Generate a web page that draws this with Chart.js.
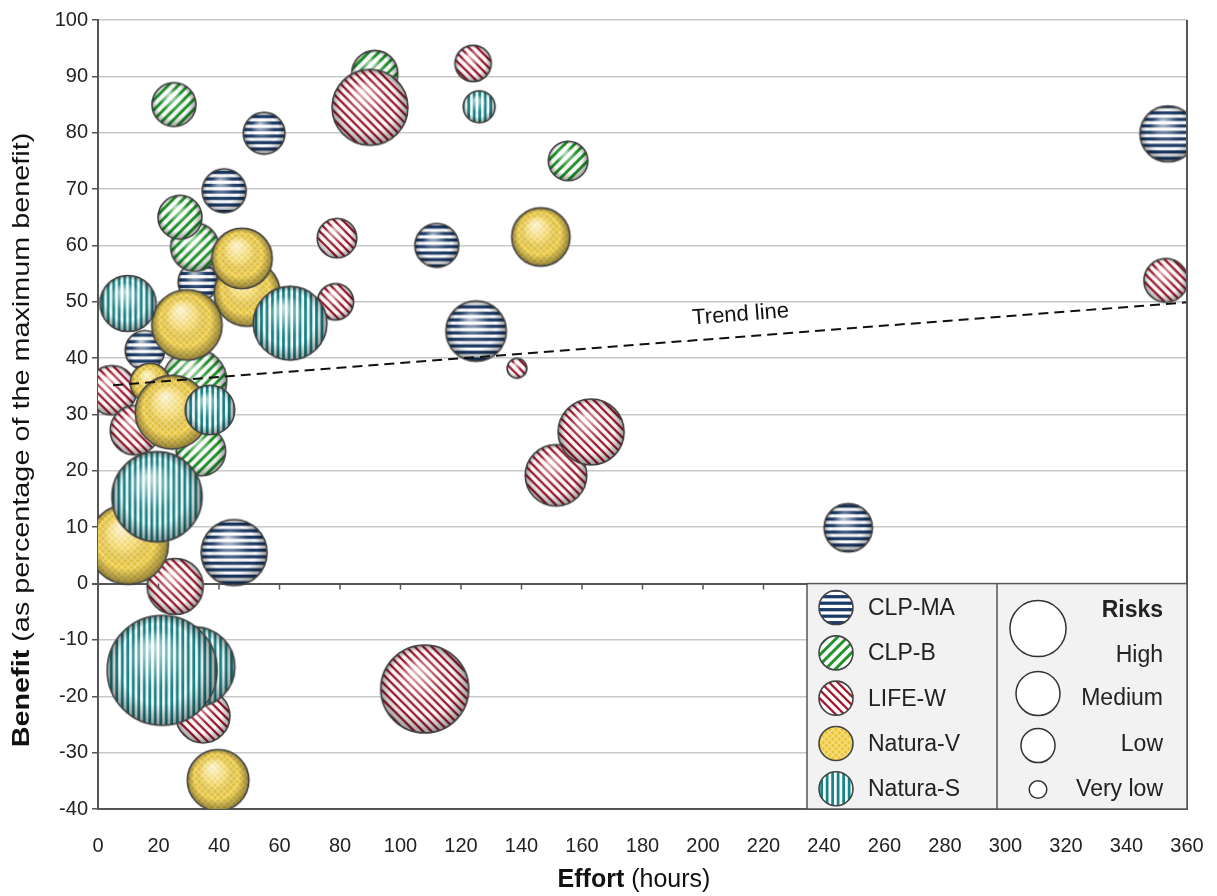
<!DOCTYPE html>
<html>
<head>
<meta charset="utf-8">
<script src="https://cdn.jsdelivr.net/npm/chart.js@4.4.1/dist/chart.umd.min.js"></script>
<style>
  html, body { margin: 0; padding: 0; background: #fff; }
</style>
</head>
<body>
<canvas id="chart" width="1217" height="896"></canvas>
<script>
// effort (hours), benefit (% of max), risk score (bubble size)
var clpMaEffort  = [15.5, 33, 54.9, 41.7, 112, 125, 45, 248, 353.7];
var clpMaBenefit = [41.4, 53.5, 79.9, 69.7, 60, 44.8, 5.5, 9.9, 79.8];
var clpMaRisk    = [3.6, 3.6, 3.8, 4.0, 4.0, 5.5, 6.0, 4.4, 5.1];

var clpBEffort  = [25.1, 91.5, 155.4, 32, 27.1, 32, 34];
var clpBBenefit = [85, 90.5, 75, 59.7, 65, 36, 23.5];
var clpBRisk    = [4.0, 4.2, 3.6, 4.4, 4.0, 5.8, 4.5];

var lifeWEffort  = [4.6, 12.2, 25.5, 34.7, 78.5, 79, 89.9, 124, 138.5, 151.4, 163, 108, 353];
var lifeWBenefit = [34.3, 27.2, -0.5, -23.5, 50, 61.3, 84.5, 92.3, 38.2, 19.2, 26.9, -18.7, 53.8];
var lifeWRisk    = [4.5, 4.5, 5.1, 4.9, 3.3, 3.6, 6.9, 3.3, 1.8, 5.6, 6.0, 8.0, 4.0];

var naturaVEffort  = [17.2, 24.5, 49.3, 29.4, 47.6, 146.4, 10, 39.7];
var naturaVBenefit = [35.6, 30.4, 51.5, 45.9, 57.7, 61.5, 7, -34.9];
var naturaVRisk    = [3.6, 6.7, 6.0, 6.4, 5.5, 5.3, 7.3, 5.6];

var naturaSEffort  = [126, 9.9, 63.5, 37, 19.5, 32, 21.2];
var naturaSBenefit = [84.6, 49.7, 46.2, 30.8, 15.4, -14.8, -15.4];
var naturaSRisk    = [2.9, 5.1, 6.7, 4.5, 8.2, 7.3, 10];

var trendEffort  = [5, 360];
var trendBenefit = [35.2, 49.9];

var seriesNames = ["CLP-MA", "CLP-B", "LIFE-W", "Natura-V", "Natura-S"];
var riskLevels = ["High", "Medium", "Low", "Very low"];
var riskLevelScores = [5.1, 4.0, 3.1, 1.6];

var RADIUS_PER_RISK = 5.5;
var FONT = "'Liberation Sans', Arial, Helvetica, sans-serif";

var looks = {
  "CLP-MA":   { base: "#ffffff", ink: "#1b3a68", angle: 0, period: 6.5, share: 0.5, kind: "stripes" },
  "CLP-B":    { base: "#ffffff", ink: "#1f942a", angle: -Math.PI / 4, period: 7, share: 0.42, kind: "stripes" },
  "LIFE-W":   { base: "#ffffff", ink: "#a3182b", angle: Math.PI / 4, period: 6, share: 0.38, kind: "stripes" },
  "Natura-V": { base: "#eac53a", ink: "#f6e080", angle: Math.PI / 4, period: 4.5, share: 0, kind: "lattice" },
  "Natura-S": { base: "#ffffff", ink: "#12868a", angle: Math.PI / 2, period: 5.5, share: 0.5, kind: "stripes" }
};

function paintBall(g, cx, cy, r, st, shaded) {
  g.save();
  g.beginPath();
  g.arc(cx, cy, r, 0, Math.PI * 2);
  g.clip();
  g.fillStyle = st.base;
  g.fillRect(cx - r - 2, cy - r - 2, 2 * r + 4, 2 * r + 4);
  g.save();
  g.translate(cx, cy);
  g.rotate(st.angle);
  var ext = r * 1.5;
  if (st.kind === "stripes") {
    g.fillStyle = st.ink;
    for (var t = -ext; t < ext; t += st.period) {
      g.fillRect(-ext, t, ext * 2, st.period * st.share);
    }
  } else {
    g.strokeStyle = st.ink;
    g.lineWidth = 1.3;
    for (var u = -ext; u < ext; u += st.period) {
      g.beginPath(); g.moveTo(-ext, u); g.lineTo(ext, u); g.stroke();
      g.beginPath(); g.moveTo(u, -ext); g.lineTo(u, ext); g.stroke();
    }
  }
  g.restore();
  if (shaded) {
    var gr = g.createRadialGradient(cx - r * 0.2, cy - r * 0.45, 0, cx, cy, r);
    gr.addColorStop(0, "rgba(255,255,255,0.75)");
    gr.addColorStop(0.4, "rgba(255,255,255,0.2)");
    gr.addColorStop(0.72, "rgba(0,0,0,0)");
    gr.addColorStop(1, "rgba(0,0,0,0.4)");
    g.fillStyle = gr;
    g.fillRect(cx - r - 2, cy - r - 2, 2 * r + 4, 2 * r + 4);
  }
  g.restore();
  g.save();
  g.beginPath();
  g.arc(cx, cy, r, 0, Math.PI * 2);
  g.strokeStyle = "#444";
  g.lineWidth = 1.6;
  g.stroke();
  g.restore();
}

var ballCache = {};
function ballImage(name, r) {
  var key = name + "_" + r.toFixed(2);
  if (ballCache[key]) return ballCache[key];
  var size = Math.ceil(r * 2 + 4);
  var c = document.createElement("canvas");
  c.width = size;
  c.height = size;
  paintBall(c.getContext("2d"), size / 2, size / 2, r, looks[name], true);
  ballCache[key] = c;
  return c;
}

function makePoints(xs, ys, risks) {
  return xs.map(function (x, i) {
    return { x: x, y: ys[i], r: risks[i] * RADIUS_PER_RISK };
  });
}

function bubbleSet(name, xs, ys, risks, order) {
  return {
    label: name,
    data: makePoints(xs, ys, risks),
    order: order,
    pointStyle: function (ctx) {
      if (ctx.type !== "data" || !ctx.raw) return "circle";
      return ballImage(name, ctx.raw.r);
    },
    backgroundColor: "rgba(0,0,0,0)",
    borderColor: "rgba(0,0,0,0)"
  };
}

var datasets = [
  bubbleSet("CLP-MA", clpMaEffort, clpMaBenefit, clpMaRisk, 5),
  bubbleSet("CLP-B", clpBEffort, clpBBenefit, clpBRisk, 4),
  bubbleSet("LIFE-W", lifeWEffort, lifeWBenefit, lifeWRisk, 3),
  bubbleSet("Natura-V", naturaVEffort, naturaVBenefit, naturaVRisk, 2),
  bubbleSet("Natura-S", naturaSEffort, naturaSBenefit, naturaSRisk, 1),
  {
    type: "line",
    label: "Trend line",
    data: trendEffort.map(function (x, i) { return { x: x, y: trendBenefit[i] }; }),
    borderColor: "#111",
    borderWidth: 2,
    borderDash: [10, 6],
    pointRadius: 0,
    fill: false,
    order: 0
  }
];

var extras = {
  id: "extras",
  afterDraw: function (chart) {
    var g = chart.ctx;
    var a = chart.chartArea;
    var xs = chart.scales.x;
    var ys = chart.scales.y;
    var y0 = ys.getPixelForValue(0);
    g.save();

    // tick marks on the zero line
    g.strokeStyle = "#555";
    g.lineWidth = 1.5;
    xs.ticks.forEach(function (t) {
      var px = xs.getPixelForValue(t.value);
      g.beginPath(); g.moveTo(px, y0); g.lineTo(px, y0 + 6); g.stroke();
    });

    // right border
    g.lineWidth = 2;
    g.beginPath(); g.moveTo(a.right, a.top); g.lineTo(a.right, a.bottom); g.stroke();

    // trend label
    var tx = xs.getPixelForValue(213);
    var slope = (ys.getPixelForValue(trendBenefit[1]) - ys.getPixelForValue(trendBenefit[0])) /
                (xs.getPixelForValue(trendEffort[1]) - xs.getPixelForValue(trendEffort[0]));
    var ty = ys.getPixelForValue(trendBenefit[0]) + slope * (tx - xs.getPixelForValue(trendEffort[0]));
    g.save();
    g.translate(tx, ty);
    g.rotate(Math.atan(slope));
    g.fillStyle = "#111";
    g.font = "22px " + FONT;
    g.textAlign = "center";
    g.textBaseline = "middle";
    g.fillText("Trend line", 0, -22);
    g.restore();

    // legend box
    var lx = a.right - 380, mid = a.right - 190, top = y0, bot = a.bottom;
    g.fillStyle = "#f2f2f2";
    g.fillRect(lx, top, a.right - lx, bot - top);
    g.strokeStyle = "#555";
    g.lineWidth = 1.5;
    g.strokeRect(lx, top, a.right - lx, bot - top);
    g.beginPath(); g.moveTo(mid, top); g.lineTo(mid, bot); g.stroke();

    var rowH = 45.3;
    g.textBaseline = "middle";
    g.textAlign = "left";
    seriesNames.forEach(function (name, i) {
      var cy = top + 24 + i * rowH;
      paintBall(g, lx + 29, cy, 17, looks[name], false);
      g.fillStyle = "#222";
      g.font = "23px " + FONT;
      g.fillText(name, lx + 61, cy + 1);
    });

    g.textAlign = "right";
    g.font = "bold 23px " + FONT;
    g.fillStyle = "#222";
    g.fillText("Risks", a.right - 24, top + 27);
    g.font = "23px " + FONT;
    var rowY = [top + 72, top + 115, top + 161, top + 206];
    var circY = [top + 45, top + 110, top + 162, top + 206];
    riskLevels.forEach(function (lev, i) {
      g.fillStyle = "#222";
      g.fillText(lev, a.right - 24, rowY[i]);
      g.beginPath();
      g.arc(mid + 41, circY[i], riskLevelScores[i] * RADIUS_PER_RISK, 0, Math.PI * 2);
      g.fillStyle = "#fff";
      g.fill();
      g.strokeStyle = "#333";
      g.lineWidth = 1.5;
      g.stroke();
    });

    // axis titles with bold lead word
    function mixedTitle(bold, rest, cx, cy, rot, size, stretch) {
      g.save();
      g.translate(cx, cy);
      g.rotate(rot);
      g.scale(stretch, 1);
      g.textBaseline = "middle";
      g.textAlign = "left";
      g.fillStyle = "#111";
      g.font = "bold " + size + "px " + FONT;
      var wb = g.measureText(bold).width;
      g.font = size + "px " + FONT;
      var wr = g.measureText(rest).width;
      var start = -(wb + wr) / 2;
      g.font = "bold " + size + "px " + FONT;
      g.fillText(bold, start, 0);
      g.font = size + "px " + FONT;
      g.fillText(rest, start + wb, 0);
      g.restore();
    }
    mixedTitle("Benefit", " (as percentage of the maximum benefit)", 22, 440, -Math.PI / 2, 24, 1.2);
    mixedTitle("Effort", " (hours)", 634, 880, 0, 25, 1);

    g.restore();
  }
};

var ctx = document.getElementById("chart").getContext("2d");
var chart = new Chart(ctx, {
  type: "bubble",
  data: { datasets: datasets },
  options: {
    responsive: false,
    devicePixelRatio: 1,
    animation: false,
    events: [],
    layout: { autoPadding: false, padding: { top: 20, right: 30, left: 0, bottom: 0 } },
    plugins: {
      legend: { display: false },
      tooltip: { enabled: false }
    },
    scales: {
      x: {
        type: "linear",
        min: 0,
        max: 360,
        ticks: {
          stepSize: 20,
          autoSkip: false,
          maxRotation: 0,
          padding: 25,
          color: "#222",
          font: { family: FONT, size: 20 }
        },
        grid: { display: false, drawTicks: false },
        border: { color: "#555", width: 2 },
        afterFit: function (s) {
          s.height = 87;
          s.paddingLeft = 0;
          s.paddingRight = 0;
        }
      },
      y: {
        type: "linear",
        min: -40,
        max: 100,
        ticks: {
          stepSize: 10,
          padding: 4,
          color: "#222",
          font: { family: FONT, size: 20 }
        },
        grid: {
          color: function (c) { return c.tick && c.tick.value === 0 ? "#555" : "#c8c8c8"; },
          lineWidth: function (c) { return c.tick && c.tick.value === 0 ? 2 : 1.5; },
          tickColor: "#555",
          tickLength: 6
        },
        border: { color: "#555", width: 2 },
        afterFit: function (s) { s.width = 98; }
      }
    }
  },
  plugins: [extras]
});
</script>
</body>
</html>
